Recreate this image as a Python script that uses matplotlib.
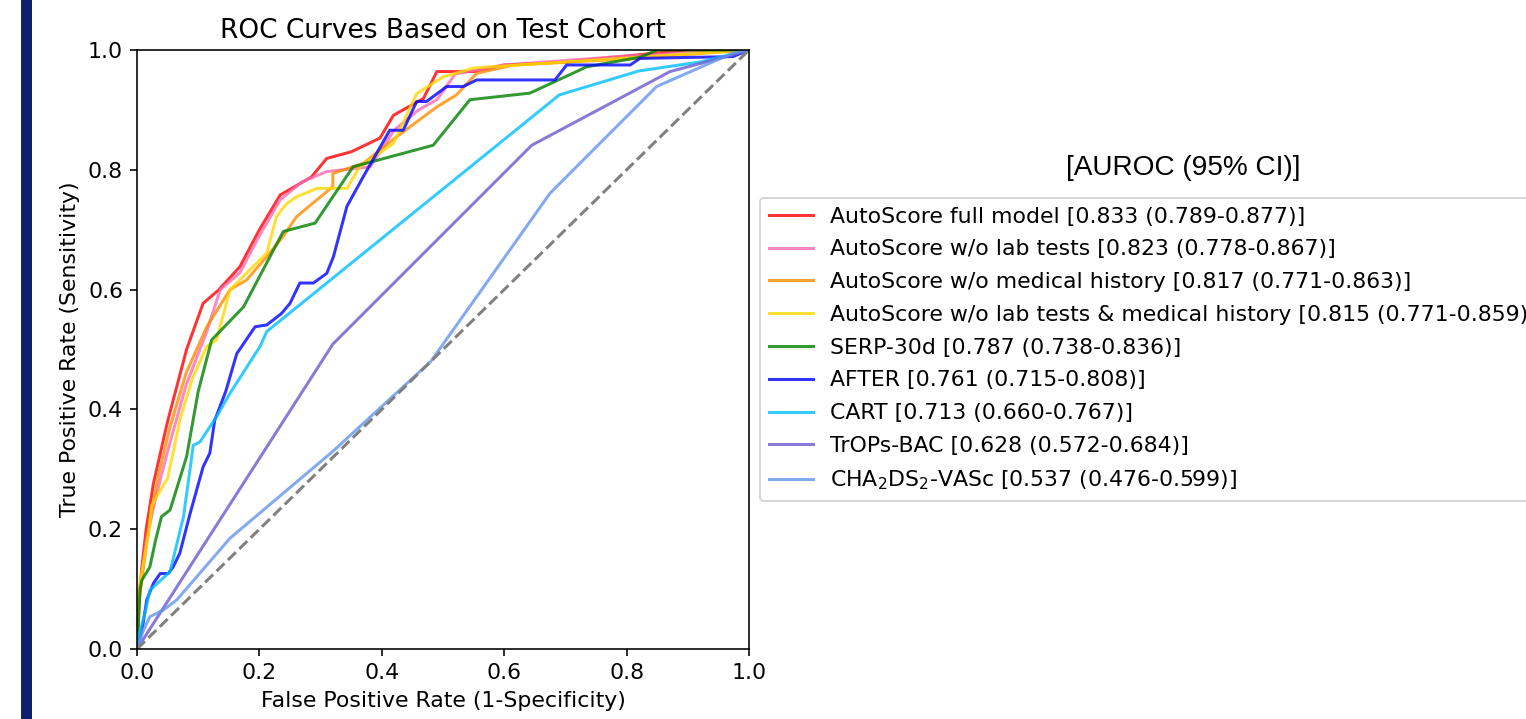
import matplotlib
matplotlib.use('Agg')
import matplotlib.pyplot as plt
from matplotlib.patches import Rectangle

#============================================================================#
# ROC points (fpr, tpr)
full_x = [0, 0.003, 0.008, 0.015, 0.027, 0.05, 0.081, 0.108, 0.133, 0.168, 0.2, 0.234,
          0.285, 0.31, 0.35, 0.397, 0.419, 0.468, 0.49, 0.55, 0.6, 0.7, 0.8, 0.9, 1.0]
full_y = [0, 0.08, 0.137, 0.2, 0.277, 0.38, 0.5, 0.577, 0.599, 0.638, 0.7, 0.758,
          0.788, 0.819, 0.83, 0.853, 0.891, 0.919, 0.964, 0.964, 0.975, 0.98, 0.99, 1.0, 1.0]

nolab_x = [0, 0.005, 0.015, 0.03, 0.05, 0.08, 0.114, 0.136, 0.168, 0.2, 0.234, 0.27,
           0.31, 0.381, 0.42, 0.46, 0.49, 0.52, 0.6, 0.8, 1]
nolab_y = [0, 0.1, 0.18, 0.25, 0.33, 0.44, 0.53, 0.6, 0.628, 0.69, 0.75, 0.78,
           0.797, 0.805, 0.866, 0.9, 0.917, 0.96, 0.975, 0.99, 1]

nohist_x = [0, 0.003, 0.01, 0.021, 0.035, 0.054, 0.08, 0.114, 0.152, 0.179, 0.212, 0.239,
            0.261, 0.32, 0.32, 0.37, 0.424, 0.49, 0.522, 0.555, 0.615, 0.8, 1]
nohist_y = [0, 0.08, 0.132, 0.215, 0.29, 0.371, 0.46, 0.538, 0.6, 0.616, 0.655, 0.689,
            0.722, 0.772, 0.794, 0.811, 0.855, 0.905, 0.925, 0.961, 0.975, 0.985, 1]

noboth_x = [0, 0.003, 0.01, 0.02, 0.024, 0.05, 0.07, 0.09, 0.114, 0.13, 0.152, 0.212,
            0.228, 0.245, 0.261, 0.294, 0.343, 0.364, 0.419, 0.457, 0.5, 0.55, 0.7, 1]
noboth_y = [0, 0.1, 0.14, 0.2, 0.24, 0.285, 0.382, 0.45, 0.505, 0.516, 0.6, 0.661,
            0.722, 0.744, 0.755, 0.769, 0.769, 0.805, 0.844, 0.927, 0.955, 0.97, 0.98, 1]

serp_x = [0, 0.005, 0.008, 0.021, 0.03, 0.04, 0.054, 0.081, 0.1, 0.122, 0.174, 0.239,
          0.291, 0.353, 0.484, 0.544, 0.642, 0.735, 0.822, 0.85, 1]
serp_y = [0, 0.1, 0.115, 0.137, 0.18, 0.221, 0.232, 0.321, 0.43, 0.516, 0.571, 0.697,
          0.711, 0.805, 0.841, 0.917, 0.928, 0.972, 0.988, 1.0, 1.0]

after_x = [0, 0.005, 0.01, 0.016, 0.027, 0.038, 0.051, 0.059, 0.07, 0.087, 0.108, 0.119,
           0.127, 0.145, 0.163, 0.193, 0.212, 0.236, 0.25, 0.266, 0.288, 0.31, 0.321,
           0.343, 0.37, 0.413, 0.435, 0.457, 0.473, 0.506, 0.533, 0.555, 0.683, 0.702,
           0.806, 0.822, 0.974, 1]
after_y = [0, 0.02, 0.043, 0.082, 0.11, 0.126, 0.126, 0.137, 0.16, 0.227, 0.304, 0.327,
           0.382, 0.43, 0.493, 0.538, 0.541, 0.56, 0.577, 0.611, 0.611, 0.627, 0.655,
           0.739, 0.789, 0.866, 0.866, 0.914, 0.914, 0.939, 0.939, 0.95, 0.95, 0.975,
           0.975, 0.986, 0.989, 1]

cart_x = [0, 0.005, 0.013, 0.021, 0.054, 0.076, 0.092, 0.103, 0.13, 0.152, 0.201, 0.212,
          0.69, 0.82, 0.92, 1]
cart_y = [0, 0.03, 0.06, 0.098, 0.129, 0.221, 0.34, 0.346, 0.388, 0.427, 0.505, 0.53,
          0.925, 0.965, 0.98, 1]

trops_x = [0, 0.32, 0.645, 0.871, 0.974, 1]
trops_y = [0, 0.509, 0.841, 0.964, 0.992, 1]

cha_x = [0, 0.01, 0.021, 0.043, 0.065, 0.152, 0.32, 0.48, 0.675, 0.849, 0.974, 1]
cha_y = [0, 0.03, 0.054, 0.065, 0.082, 0.185, 0.33, 0.48, 0.761, 0.939, 0.995, 1]

labels = ['AutoScore full model [0.833 (0.789-0.877)]',
          'AutoScore w/o lab tests [0.823 (0.778-0.867)]',
          'AutoScore w/o medical history [0.817 (0.771-0.863)]',
          'AutoScore w/o lab tests & medical history [0.815 (0.771-0.859)]',
          'SERP-30d [0.787 (0.738-0.836)]',
          'AFTER [0.761 (0.715-0.808)]',
          'CART [0.713 (0.660-0.767)]',
          'TrOPs-BAC [0.628 (0.572-0.684)]',
          r'CHA$_2$DS$_2$-VASc [0.537 (0.476-0.599)]']
colors = ['red', 'hotpink', 'darkorange', 'gold', 'green', 'blue', 'deepskyblue',
          'slateblue', 'cornflowerblue']
curves = [(full_x, full_y), (nolab_x, nolab_y), (nohist_x, nohist_y), (noboth_x, noboth_y),
          (serp_x, serp_y), (after_x, after_y), (cart_x, cart_y), (trops_x, trops_y),
          (cha_x, cha_y)]

#============================================================================#
plt.rcParams['font.size'] = 11
fig = plt.figure(figsize=(1526/144, 719/144), dpi=144)
ax = fig.add_axes([137/1526, 1-649/719, 612/1526, 599/719])

for (x, y), c, lab in zip(curves, colors, labels):
    ax.plot(x, y, color=c, alpha=0.8, lw=1.5, label=lab)
ax.plot([0, 1], [0, 1], '--', color='grey', lw=1.5)

ax.set_xlim(0, 1)
ax.set_ylim(0, 1)
ax.set_title('ROC Curves Based on Test Cohort', fontsize=13.2)
ax.set_xlabel('False Positive Rate (1-Specificity)')
ax.set_ylabel('True Positive Rate (Sensitivity)')
ax.legend(loc='center left', bbox_to_anchor=(1.0, 0.5), fontsize=11, labelspacing=0.58)

fig.text(1183/1526, 1-168/719, '[AUROC (95% CI)]', family='Liberation Sans',
         fontsize=14, ha='center', va='center')

# navy side bar from the slide
fig.patches.append(Rectangle((22/1526, 0), 9/1526, 1, transform=fig.transFigure,
                             color='#0f1f6b', zorder=5))

fig.savefig('out.png', dpi=144)
